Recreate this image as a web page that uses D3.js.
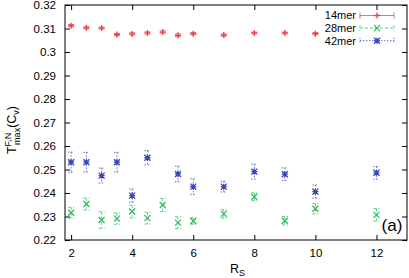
<!DOCTYPE html>
<html><head><meta charset="utf-8">
<script src="https://cdn.jsdelivr.net/npm/d3@7"></script>
<style>body{margin:0;background:#fff}svg{display:block;font-family:"Liberation Sans",Arial,sans-serif}</style>
</head><body><svg id="c" width="409" height="278"></svg>
<script>
const xTicks = [2,4,6,8,10,12];
const yTicks = [0.22,0.23,0.24,0.25,0.26,0.27,0.28,0.29,0.30,0.31,0.32];

const x14 = [2,2.5,3,3.5,4,4.5,5,5.5,6,7,8,9,10];
const y14 = [0.3112,0.3103,0.3102,0.3074,0.3077,0.3081,0.3085,0.3071,0.3078,0.3072,0.3081,0.3081,0.3078];
const e14 = [0.0005,0.0005,0.0004,0.0005,0.0005,0.0005,0.0005,0.0006,0.0005,0.0005,0.0004,0.0004,0.0005];

const x28 = [2,2.5,3,3.5,4,4.5,5,5.5,6,7,8,9,10,12];
const y28 = [0.2316,0.2353,0.2285,0.2291,0.2321,0.2293,0.2349,0.2274,0.2281,0.2311,0.2384,0.2282,0.2333,0.2307];
const e28 = [0.0023,0.0025,0.0035,0.0024,0.0027,0.0025,0.0028,0.0025,0.0014,0.0018,0.0017,0.0018,0.0022,0.0027];

const x42 = [2,2.5,3,3.5,4,4.5,5.5,6,7,8,9,10,12];
const y42 = [0.2531,0.2531,0.2474,0.2531,0.2389,0.2550,0.2481,0.2427,0.2427,0.2491,0.2480,0.2406,0.2486];
const e42 = [0.0043,0.0042,0.0032,0.0042,0.0028,0.0030,0.0033,0.0033,0.0023,0.0032,0.0027,0.0028,0.0027];

const seriesNames = ["14mer","28mer","42mer"];

(function(){
const svg = d3.select("#c");
const L=65, R=407, T=5, B=240;
const x = d3.scaleLinear().domain([1.8,13]).range([L,R]);
const y = d3.scaleLinear().domain([0.22,0.32]).range([B,T]);

const fmt = d3.format("~g");
const ax = svg.append("g");
const axB = d3.axisBottom(x).tickValues(xTicks).tickSizeInner(-5).tickSizeOuter(0).tickPadding(9).tickFormat(fmt);
const axT = d3.axisTop(x).tickValues(xTicks).tickSizeInner(-5).tickSizeOuter(0).tickFormat("");
const axL = d3.axisLeft(y).tickValues(yTicks).tickSizeInner(-5).tickSizeOuter(0).tickPadding(9).tickFormat(fmt);
const axR = d3.axisRight(y).tickValues(yTicks).tickSizeInner(-5).tickSizeOuter(0).tickFormat("");
[[axB,`translate(0,${B})`],[axT,`translate(0,${T})`],[axL,`translate(${L},0)`],[axR,`translate(${R},0)`]].forEach(([a,t])=>{
  const g = ax.append("g").attr("transform",t).call(a);
  g.select(".domain").remove();
  g.selectAll("line").attr("stroke","#000");
  g.selectAll("text").attr("fill","#000").attr("font-size",11.5).attr("font-family","Liberation Sans, Arial, sans-serif");
});
svg.append("rect").attr("x",L).attr("y",T).attr("width",R-L).attr("height",B-T).attr("fill","none").attr("stroke","#000").attr("stroke-width",1);

const styles = [
  {color:"#ee3d4a", dash:null, marker:"plus"},
  {color:"#2ebd5c", dash:"3,2", marker:"cross"},
  {color:"#3b45b5", dash:"1.5,1.5", marker:"star"}
];

function marker(g, cx, cy, type, color){
  const s=3;
  const p = d3.path();
  if(type==="plus"||type==="star"){p.moveTo(cx-s,cy);p.lineTo(cx+s,cy);p.moveTo(cx,cy-s);p.lineTo(cx,cy+s);}
  if(type==="cross"||type==="star"){p.moveTo(cx-s,cy-s);p.lineTo(cx+s,cy+s);p.moveTo(cx-s,cy+s);p.lineTo(cx+s,cy-s);}
  g.append("path").attr("d",p.toString()).attr("stroke",color).attr("stroke-width",1.3).attr("fill","none");
}

function errbar(g, cx, y0, y1, st){
  const c=3;
  const p = d3.path();
  p.moveTo(cx,y0);p.lineTo(cx,y1);
  p.moveTo(cx-c,y0);p.lineTo(cx+c,y0);
  p.moveTo(cx-c,y1);p.lineTo(cx+c,y1);
  g.append("path").attr("d",p.toString()).attr("stroke",st.color).attr("stroke-opacity",0.75)
    .attr("stroke-width",1).attr("fill","none").attr("stroke-dasharray",st.dash);
}

const data = [[x14,y14,e14],[x28,y28,e28],[x42,y42,e42]];
data.forEach(([xs,ys,es],i)=>{
  const g = svg.append("g");
  xs.forEach((xv,j)=>{
    errbar(g, x(xv), y(ys[j]+es[j]), y(ys[j]-es[j]), styles[i]);
    marker(g, x(xv), y(ys[j]), styles[i].marker, styles[i].color);
  });
});

const lg = svg.append("g");
seriesNames.forEach((n,i)=>{
  const ly = 15.5 + i*12.6;
  lg.append("text").attr("x",356).attr("y",ly).attr("dy","0.35em").attr("text-anchor","end")
    .attr("font-size",11).attr("fill","#000").text(n);
  const st = styles[i];
  const p = d3.path();
  p.moveTo(360,ly);p.lineTo(394,ly);
  p.moveTo(360,ly-3);p.lineTo(360,ly+3);
  p.moveTo(394,ly-3);p.lineTo(394,ly+3);
  lg.append("path").attr("d",p.toString()).attr("stroke",st.color).attr("stroke-opacity",0.75)
    .attr("stroke-width",1).attr("fill","none").attr("stroke-dasharray",st.dash);
  marker(lg,377,ly,st.marker,st.color);
});

svg.append("text").attr("x",392).attr("y",225).attr("dy","0.35em").attr("text-anchor","middle")
  .attr("font-size",17).attr("fill","#000").text("(a)");

const xl = svg.append("text").attr("x",230).attr("y",273).attr("font-size",12.5).attr("fill","#000");
xl.append("tspan").text("R");
xl.append("tspan").attr("font-size",9).attr("dy",3).text("S");

const yl = svg.append("text").attr("transform","translate(16,130) rotate(-90)").attr("text-anchor","middle")
  .attr("font-size",12.5).attr("fill","#000");
yl.append("tspan").text("T");
yl.append("tspan").attr("font-size",9).attr("dy",-5).text("F,N");
yl.append("tspan").attr("font-size",9).attr("dx",-12).attr("dy",9).text("max");
yl.append("tspan").attr("dy",-4).text("(C");
yl.append("tspan").attr("font-size",9).attr("dy",3).text("v");
yl.append("tspan").attr("dy",-3).text(")");
})();
</script></body></html>
